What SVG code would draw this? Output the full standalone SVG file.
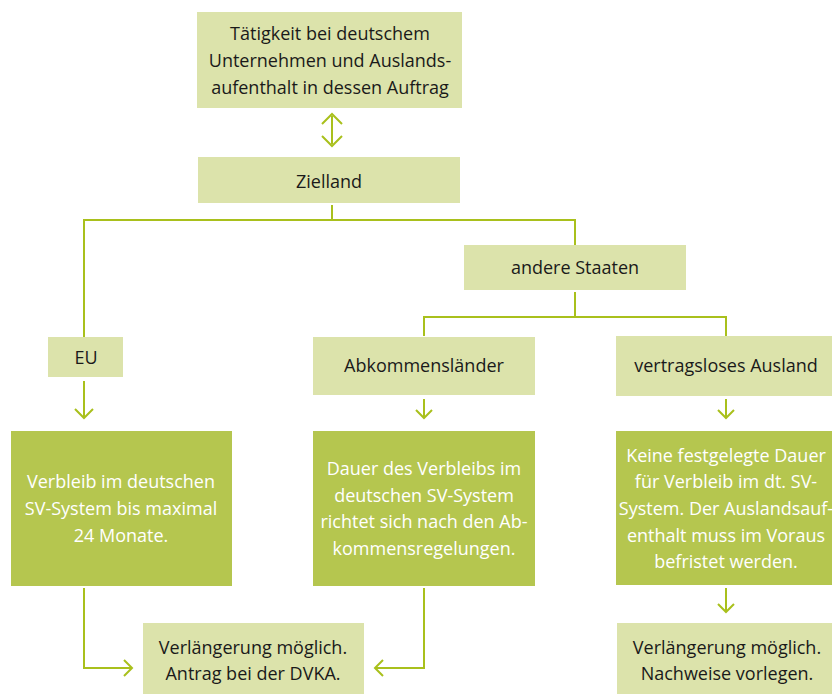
<svg xmlns="http://www.w3.org/2000/svg" width="832" height="694" viewBox="0 0 832 694">
<style>
.lt{fill:#dce3ab}
.dk{fill:#b5c64f}
.t{font-family:"Open Sans","Noto Sans",sans-serif;font-size:18px;fill:#1a1a1a;text-anchor:middle}
.w{fill:#ffffff}
.c{fill:none;stroke:#a9c01c;stroke-width:2}
</style>
<rect width="832" height="694" fill="#ffffff"/>
<g id="top">
<rect class="lt" x="197" y="12" width="265" height="96"/>
<text class="t" x="330" y="40">Tätigkeit bei deutschem</text>
<text class="t" x="330" y="67">Unternehmen und Auslands-</text>
<text class="t" x="330" y="94">aufenthalt in dessen Auftrag</text>
</g>
<g id="zielland">
<rect class="lt" x="198" y="157" width="262" height="46"/>
<text class="t" x="329" y="188">Zielland</text>
</g>
<g id="eu">
<rect class="lt" x="48" y="337" width="75" height="40"/>
<text class="t" x="86" y="364">EU</text>
</g>
<g id="andere">
<rect class="lt" x="464" y="245" width="222" height="45"/>
<text class="t" x="575" y="274">andere Staaten</text>
</g>
<g id="abkommen">
<rect class="lt" x="313" y="337" width="222" height="58"/>
<text class="t" x="424" y="372">Abkommensländer</text>
</g>
<g id="vertragslos">
<rect class="lt" x="616" y="336" width="216" height="60"/>
<text class="t" x="726" y="372">vertragsloses Ausland</text>
</g>
<g id="verbleibEU">
<rect class="dk" x="11" y="431" width="221" height="155"/>
<text class="t w" x="121" y="488">Verbleib im deutschen</text>
<text class="t w" x="121" y="515">SV-System bis maximal</text>
<text class="t w" x="121" y="542">24 Monate.</text>
</g>
<g id="dauer">
<rect class="dk" x="313" y="431" width="222" height="155"/>
<text class="t w" x="424" y="475">Dauer des Verbleibs im</text>
<text class="t w" x="424" y="502">deutschen SV-System</text>
<text class="t w" x="424" y="528">richtet sich nach den Ab-</text>
<text class="t w" x="424" y="555">kommensregelungen.</text>
</g>
<g id="keine">
<rect class="dk" x="616" y="431" width="216" height="154"/>
<text class="t w" x="726" y="462">Keine festgelegte Dauer</text>
<text class="t w" x="726" y="488">für Verbleib im dt. SV-</text>
<text class="t w" x="726" y="515">System. Der Auslandsauf-</text>
<text class="t w" x="726" y="542">enthalt muss im Voraus</text>
<text class="t w" x="726" y="568">befristet werden.</text>
</g>
<g id="verl1">
<rect class="lt" x="143" y="623" width="221" height="71"/>
<text class="t" x="253" y="654">Verlängerung möglich.</text>
<text class="t" x="253" y="680">Antrag bei der DVKA.</text>
</g>
<g id="verl2">
<rect class="lt" x="617" y="623" width="215" height="71"/>
<text class="t" x="727" y="654">Verlängerung möglich.</text>
<text class="t" x="727" y="680">Nachweise vorlegen.</text>
</g>
<g id="connectors">
<path class="c" d="M332 116V144M322 124L332 114L342 124M322 136L332 146L342 136" stroke-width="3"/>
<path class="c" d="M332 205V220M84 337V220H575V245"/>
<path class="c" d="M575 292V317M424 336V317H726V336"/>
<path class="c" d="M84 381V418M75 409L84 418L93 409"/>
<path class="c" d="M424 399V418M416 410L424 418L432 410"/>
<path class="c" d="M726 399V418M718 410L726 418L734 410"/>
<path class="c" d="M726 588V612M718 604L726 612L734 604"/>
<path class="c" d="M84 588V668H132M124 660L132 668L124 676"/>
<path class="c" d="M424 588V668H375M383 660L375 668L383 676"/>
</g>
</svg>
